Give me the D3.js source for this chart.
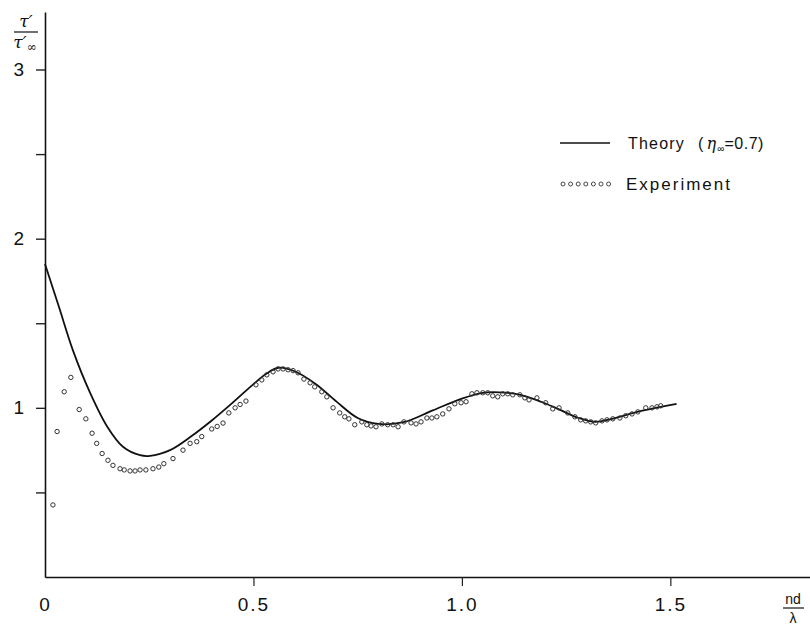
<!DOCTYPE html>
<html>
<head>
<meta charset="utf-8">
<script src="https://cdn.jsdelivr.net/npm/d3@7"></script>
<style>
  body { margin: 0; background: #fff; }
  text { font-family: 'Liberation Sans', Arial, sans-serif; fill: #111; }
</style>
</head>
<body>
<svg id="chart" width="810" height="627"></svg>
<script>
// theory curve, eta_inf = 0.7
const theoryX = [0, 0.033, 0.067, 0.108, 0.149, 0.187, 0.228, 0.252, 0.30, 0.35, 0.40, 0.45, 0.50, 0.53, 0.56, 0.60, 0.65, 0.70, 0.75, 0.80, 0.86, 0.93, 1.0, 1.05, 1.09, 1.14, 1.19, 1.23, 1.28, 1.32, 1.36, 1.43, 1.515]
const theoryY = [1.85, 1.6, 1.34, 1.09, 0.89, 0.77, 0.72, 0.716, 0.75, 0.83, 0.925, 1.03, 1.14, 1.20, 1.237, 1.215, 1.14, 1.035, 0.94, 0.905, 0.915, 0.985, 1.055, 1.089, 1.092, 1.077, 1.036, 0.994, 0.94, 0.917, 0.935, 0.982, 1.024]

// experiment points
const expX = [0.019, 0.029, 0.046, 0.062, 0.082, 0.098, 0.113, 0.124, 0.137, 0.151, 0.163, 0.18, 0.19, 0.204, 0.216, 0.228, 0.242, 0.259, 0.273, 0.285,
  0.307, 0.331, 0.348, 0.364, 0.376, 0.40, 0.413, 0.427, 0.441, 0.456, 0.468, 0.482, 0.506, 0.52, 0.532, 0.547, 0.559, 0.571, 0.583, 0.595,
  0.607, 0.621, 0.636, 0.647, 0.664, 0.676, 0.691, 0.707, 0.719, 0.729, 0.743, 0.76, 0.772, 0.782, 0.794, 0.808, 0.822, 0.835, 0.847, 0.861,
  0.878, 0.89, 0.902, 0.916, 0.928, 0.94, 0.954, 0.969, 0.983, 0.998, 1.01, 1.024, 1.036, 1.05, 1.062, 1.074, 1.086, 1.098, 1.11, 1.122,
  1.139, 1.151, 1.161, 1.18, 1.201, 1.218, 1.233, 1.254, 1.271, 1.285, 1.297, 1.309, 1.321, 1.336, 1.348, 1.362, 1.379, 1.393, 1.408, 1.422,
  1.441, 1.456, 1.468, 1.477]
const expY = [0.426, 0.86, 1.095, 1.18, 0.99, 0.935, 0.85, 0.79, 0.73, 0.69, 0.66, 0.64, 0.633, 0.627, 0.627, 0.633, 0.633, 0.64, 0.65, 0.67,
  0.70, 0.75, 0.79, 0.80, 0.83, 0.875, 0.89, 0.91, 0.97, 1.0, 1.02, 1.04, 1.136, 1.165, 1.195, 1.213, 1.23, 1.23, 1.225, 1.22,
  1.207, 1.17, 1.148, 1.124, 1.095, 1.065, 1.0, 0.97, 0.947, 0.935, 0.90, 0.917, 0.90, 0.893, 0.888, 0.905, 0.90, 0.90, 0.888, 0.917,
  0.911, 0.905, 0.917, 0.94, 0.94, 0.947, 0.964, 0.994, 1.024, 1.03, 1.036, 1.083, 1.089, 1.089, 1.089, 1.071, 1.065, 1.083, 1.083, 1.077,
  1.077, 1.059, 1.047, 1.059, 1.03, 0.994, 1.0, 0.97, 0.947, 0.929, 0.923, 0.917, 0.911, 0.923, 0.929, 0.935, 0.94, 0.953, 0.964, 0.976,
  1.0, 1.0, 1.006, 1.012]

const xTicks = [0, 0.5, 1, 1.5]
const xTickLabels = ['0', '0.5', '1.0', '1.5']
const yTicks = [0.5, 1, 1.5, 2, 2.5, 3]
const yTickLabels = ['', '1', '', '2', '', '3']

const svg = d3.select('#chart')

const x = d3.scaleLinear().domain([0, 1.835]).range([45, 810])
const y = d3.scaleLinear().domain([0, 3.34]).range([577, 12])

// x axis
const xAxis = svg.append('g')
  .attr('transform', `translate(0,${y(0)})`)
  .call(d3.axisBottom(x)
    .tickValues(xTicks)
    .tickSize(9)
    .tickSizeOuter(0)
    .tickPadding(12)
    .tickFormat((d, i) => xTickLabels[i]))
xAxis.select('.domain').attr('stroke', '#111').attr('stroke-width', 1.6)
xAxis.selectAll('.tick line').attr('stroke', '#222').attr('stroke-width', 1.2)
  .filter(d => d === 0).remove()
xAxis.selectAll('.tick text')
  .style('font-size', '19px')
  .style('letter-spacing', '2px')
  .attr('fill', '#222')

// y axis
const yAxis = svg.append('g')
  .attr('transform', `translate(${x(0)},0)`)
  .call(d3.axisLeft(y)
    .tickValues(yTicks)
    .tickSize(9)
    .tickSizeOuter(0)
    .tickPadding(12)
    .tickFormat((d, i) => yTickLabels[i]))
yAxis.select('.domain').attr('stroke', '#111').attr('stroke-width', 1.6)
yAxis.selectAll('.tick line').attr('stroke', '#222').attr('stroke-width', 1.4)
yAxis.selectAll('.tick text')
  .style('font-size', '19px')
  .attr('fill', '#222')

// axis titles
const yt = svg.append('g').attr('class', 'y-title')
yt.append('text').attr('x', 26).attr('y', 27).attr('text-anchor', 'middle')
  .style('font-family', "'DejaVu Serif', serif").style('font-style', 'italic').style('font-size', '17px')
  .text('τ′')
yt.append('line').attr('x1', 14).attr('x2', 38).attr('y1', 32).attr('y2', 32)
  .attr('stroke', '#111').attr('stroke-width', 1.2)
const den = yt.append('text').attr('x', 25).attr('y', 48).attr('text-anchor', 'middle')
  .style('font-family', "'DejaVu Serif', serif").style('font-style', 'italic').style('font-size', '17px')
den.append('tspan').text('τ′')
den.append('tspan').attr('dy', 3).style('font-size', '12px').style('font-style', 'normal').text('∞')

const xt = svg.append('g').attr('class', 'x-title')
xt.append('text').attr('x', 793).attr('y', 604).attr('text-anchor', 'middle')
  .style('font-size', '14px').text('nd')
xt.append('line').attr('x1', 783).attr('x2', 804).attr('y1', 608).attr('y2', 608)
  .attr('stroke', '#111').attr('stroke-width', 1.2)
xt.append('text').attr('x', 793).attr('y', 623).attr('text-anchor', 'middle')
  .style('font-size', '14px').text('λ')

// theory line
const theory = theoryX.map((d, i) => [d, theoryY[i]])
svg.append('path')
  .datum(theory)
  .attr('fill', 'none')
  .attr('stroke', '#111')
  .attr('stroke-width', 1.8)
  .attr('d', d3.line().x(d => x(d[0])).y(d => y(d[1])).curve(d3.curveCatmullRom.alpha(0.5)))

// experiment circles
const experiment = expX.map((d, i) => [d, expY[i]])
svg.append('g').selectAll('circle')
  .data(experiment)
  .join('circle')
  .attr('cx', d => x(d[0]))
  .attr('cy', d => y(d[1]))
  .attr('r', 2.2)
  .attr('fill', 'none')
  .attr('stroke', '#333')
  .attr('stroke-width', 1)

// legend
const legend = svg.append('g').attr('class', 'legend')
legend.append('line').attr('x1', 560).attr('x2', 610).attr('y1', 143).attr('y2', 143)
  .attr('stroke', '#111').attr('stroke-width', 1.6)
const lt = legend.append('text').attr('x', 628).attr('y', 149)
  .style('font-size', '16px').style('letter-spacing', '1.2px')
lt.append('tspan').text('Theory')
lt.append('tspan').attr('x', 698).text('(')
lt.append('tspan').attr('dx', 2).style('font-family', "'DejaVu Serif', serif").style('font-style', 'italic').text('η')
lt.append('tspan').attr('dy', 3).style('font-size', '10px').style('letter-spacing', '0px').text('∞')
lt.append('tspan').attr('dy', -3).style('letter-spacing', '0.5px').text('=0.7)')

legend.selectAll('circle')
  .data(d3.range(7))
  .join('circle')
  .attr('cx', d => 563 + d * 7.6)
  .attr('cy', 184)
  .attr('r', 2)
  .attr('fill', 'none')
  .attr('stroke', '#333')
  .attr('stroke-width', 0.9)
legend.append('text').attr('x', 626).attr('y', 190)
  .style('font-size', '17px').style('letter-spacing', '2px')
  .text('Experiment')
</script>
</body>
</html>
